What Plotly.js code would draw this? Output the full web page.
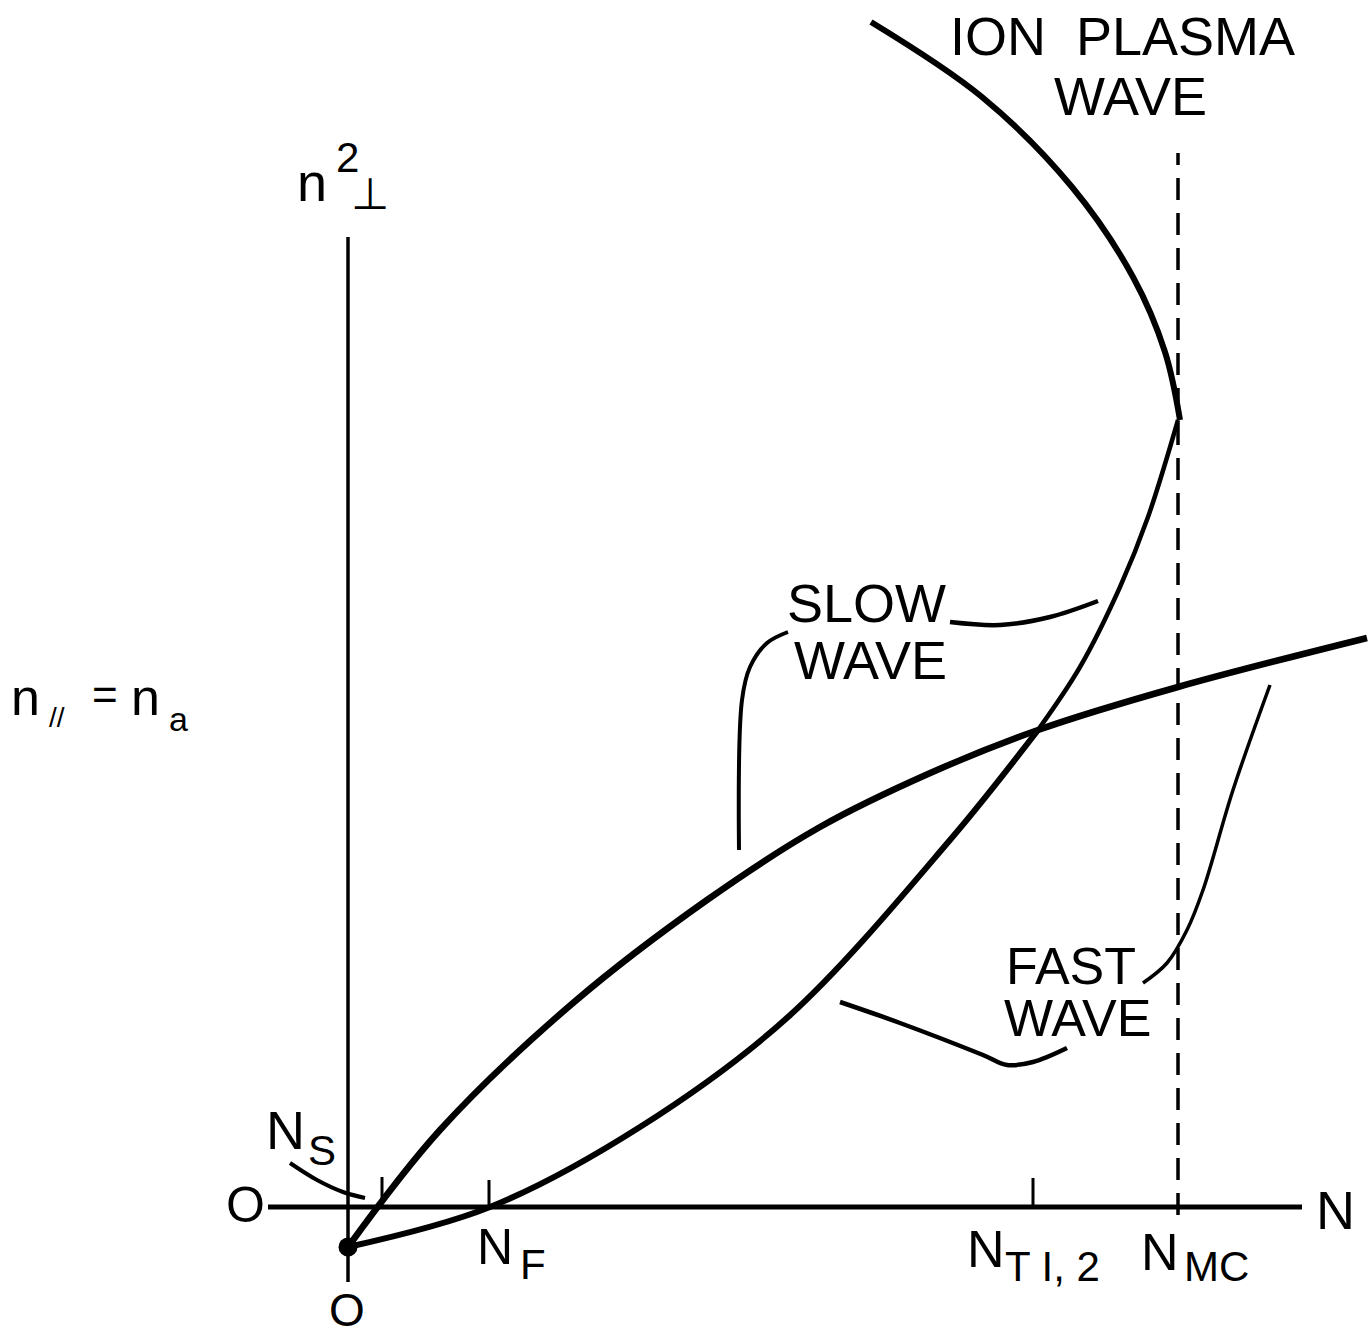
<!DOCTYPE html>
<html>
<head>
<meta charset="utf-8">
<script src="https://cdn.plot.ly/plotly-3.0.1.min.js"></script>
<style>
  html, body { margin: 0; padding: 0; background: #ffffff; }
  #plot { width: 1370px; height: 1338px; }
</style>
</head>
<body>
<div id="plot"></div>
<script>
// Dispersion sketch: n_perp^2 against N for fixed n_par = n_a (arbitrary units).

// Upper branch: starts below zero at N = 0, crosses zero at N_S, rises to the right edge
const upperN  = [0.00, 0.92, 2.25, 3.59, 4.72, 5.80, 6.90, 8.30, 10.19];
const upperN2 = [-0.40, 0.77, 2.04, 3.07, 3.80, 4.33, 4.77, 5.20, 5.69];

// Lower branch: from N = 0 through N_F up to the crossing at N_T1,2
const lowerN  = [0.00, 1.42, 2.92, 4.40, 6.02, 6.90];
const lowerN2 = [-0.40, 0.00, 0.80, 1.90, 3.67, 4.77];

// Lower branch above the crossing, up to the turning point at N_MC
const risingN  = [6.90, 7.32, 7.72, 8.00, 8.30];
const risingN2 = [4.77, 5.40, 6.20, 6.90, 7.87];

// Ion plasma wave: from the turning point at N_MC back up to the top
const ionN  = [8.32, 8.17, 7.85, 7.24, 6.34, 5.23];
const ionN2 = [7.87, 8.55, 9.30, 10.20, 11.10, 11.85];

// Starting point of both branches
const startN  = [0.00];
const startN2 = [-0.40];

// Marked positions on the N axis
const tickNames = ["N_S", "N_F", "N_T1,2"];
const tickN     = [0.34, 1.41, 6.85];
const tickTop   = [0.30, 0.27, 0.29];

// Mode conversion point N_MC (dashed guide)
const mcN     = [8.30, 8.30];
const mcRange = [-0.08, 10.54];

// Axis extents
const axisN  = [-0.80, 9.54];
const axisN2 = [-0.75, 9.70];

// Label leader lines
const nsLeadN  = [-0.58, -0.31, -0.05, 0.17];
const nsLeadN2 = [0.44, 0.27, 0.15, 0.09];
const slowLeadAN  = [4.40, 4.19, 4.02, 3.94, 3.91];
const slowLeadAN2 = [5.75, 5.64, 5.40, 5.07, 3.57];
const slowLeadBN  = [6.02, 6.52, 7.02, 7.50];
const slowLeadBN2 = [5.85, 5.82, 5.90, 6.06];
const fastLeadAN  = [4.92, 5.52, 6.35, 6.59, 6.85, 7.19];
const fastLeadAN2 = [2.05, 1.84, 1.52, 1.42, 1.45, 1.59];
const fastLeadBN  = [7.95, 8.19, 8.39, 8.55, 8.85, 9.22];
const fastLeadBN2 = [2.24, 2.44, 2.77, 3.17, 4.17, 5.22];

const INK = "#000000";
const FONT = "Liberation Sans, Arial, sans-serif";

function curve(x, y, width, extra) {
  return Object.assign({
    type: "scatter", mode: "lines", x: x, y: y,
    line: { color: INK, width: width, shape: "spline", smoothing: 1 },
    hoverinfo: "skip", showlegend: false
  }, extra || {});
}

function straight(x, y, width, dash) {
  return {
    type: "scatter", mode: "lines", x: x, y: y,
    line: { color: INK, width: width, dash: dash || "solid" },
    hoverinfo: "skip", showlegend: false
  };
}

const traces = [
  // axes
  straight(axisN, [0, 0], 5),
  straight([0, 0], axisN2, 3.5),
  // dashed N_MC guide
  straight(mcN, mcRange, 3.5, "22px,13px"),
  // branches
  curve(upperN, upperN2, 6.5),
  curve(lowerN, lowerN2, 6),
  curve(risingN, risingN2, 4.5),
  curve(ionN, ionN2, 6),
  // leaders
  curve(nsLeadN, nsLeadN2, 4),
  curve(slowLeadAN, slowLeadAN2, 4),
  curve(slowLeadBN, slowLeadBN2, 4.5),
  curve(fastLeadAN, fastLeadAN2, 4.5),
  curve(fastLeadBN, fastLeadBN2, 3.5),
  // start point
  { type: "scatter", mode: "markers", x: startN, y: startN2,
    marker: { color: INK, size: 19 }, hoverinfo: "skip", showlegend: false }
];

// tick marks on the N axis
tickN.forEach(function (n, i) {
  const t = straight([n, n], [0, tickTop[i]], 3);
  t.name = tickNames[i];
  traces.push(t);
});

function label(text, x, y, size) {
  return {
    text: text, x: x, y: y, xref: "x", yref: "y",
    showarrow: false, xanchor: "center", yanchor: "middle", borderpad: 0,
    font: { family: FONT, size: size, color: INK }
  };
}

const annotations = [
  label("ION  PLASMA", 7.74, 11.71, 54),
  label("WAVE", 7.82, 11.11, 54),
  label("SLOW", 5.18, 6.04, 54),
  label("WAVE", 5.22, 5.47, 54),
  label("FAST", 7.23, 2.41, 52),
  label("WAVE", 7.29, 1.89, 52),
  // vertical axis title n_perp^2
  label("n", -0.36, 10.25, 54),
  label("2", -0.01, 10.50, 42),
  label("\u22A5", 0.22, 10.14, 44),
  // n_par = n_a
  label("n", -3.23, 5.10, 52),
  label("//", -2.91, 4.90, 28),
  label("=", -2.43, 5.13, 44),
  label("n", -2.03, 5.10, 52),
  label("a", -1.70, 4.88, 34),
  // zeros and axis name
  label("O", -1.03, 0.02, 50),
  label("O", -0.01, -1.03, 46),
  label("N", 9.87, -0.03, 54),
  // tick names
  label("N", -0.63, 0.77, 54),
  label("S", -0.26, 0.57, 42),
  label("N", 1.47, -0.40, 50),
  label("F", 1.85, -0.57, 42),
  label("N", 6.38, -0.42, 52),
  label("T I, 2", 7.04, -0.59, 42),
  label("N", 8.12, -0.45, 52),
  label("MC", 8.68, -0.59, 42)
];

const layout = {
  width: 1370, height: 1338,
  margin: { l: 0, r: 0, t: 0, b: 0, pad: 0 },
  paper_bgcolor: "#ffffff", plot_bgcolor: "#ffffff",
  showlegend: false,
  xaxis: { range: [-3.48, 10.22], visible: false, fixedrange: true },
  yaxis: { range: [-1.31, 12.07], visible: false, fixedrange: true },
  annotations: annotations
};

Plotly.newPlot("plot", traces, layout, { staticPlot: true, displayModeBar: false });
</script>
</body>
</html>
